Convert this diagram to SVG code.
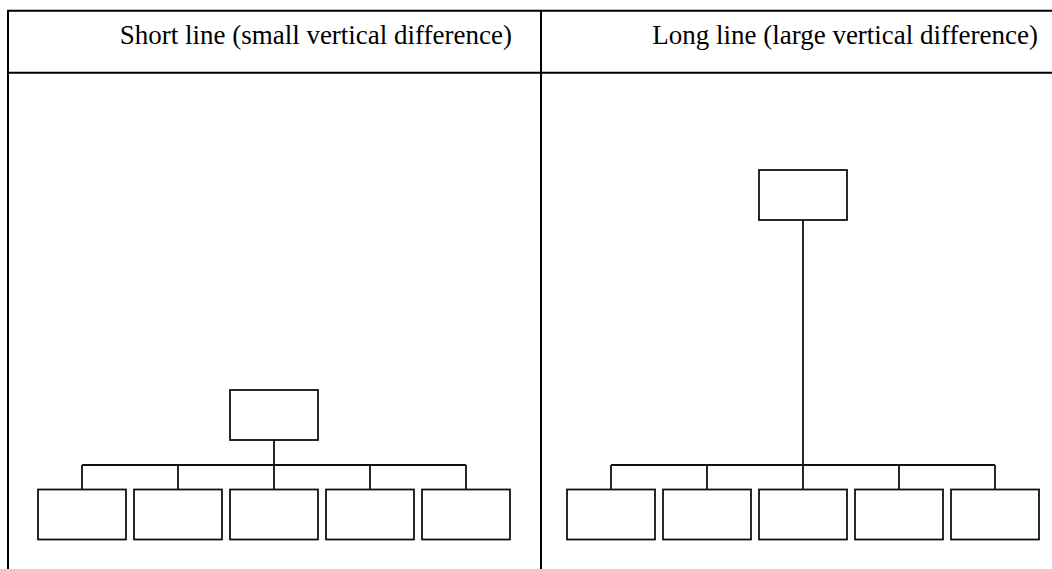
<svg xmlns="http://www.w3.org/2000/svg" width="1052" height="569" viewBox="0 0 1052 569">
  <style>
    .grid { stroke: #000; stroke-width: 2; fill: none; }
    .box { fill: #fff; stroke: #111; stroke-width: 1.8; }
    .wire { fill: none; stroke: #111; stroke-width: 1.8; }
    .title { font-family: "Liberation Serif", "Times New Roman", serif; font-size: 27px; fill: #000; text-anchor: end; }
  </style>
  <rect width="1052" height="569" fill="#fff"/>

  <!-- table frame -->
  <g id="table">
    <path class="grid" d="M8 569 V10.7 H1052 M8 72.7 H1052 M541 10.7 V569"/>
    <text class="title" x="512" y="44">Short line (small vertical difference)</text>
    <text class="title" x="1038" y="44">Long line (large vertical difference)</text>
  </g>

  <!-- connectors -->
  <g id="connectors">
    <path class="wire" d="M274 440 V465 M82 465 H466 M82 465 V489.5 M178 465 V489.5 M274 465 V489.5 M370 465 V489.5 M466 465 V489.5"/>
    <path class="wire" d="M803 220 V465 M611 465 H995 M611 465 V489.5 M707 465 V489.5 M803 465 V489.5 M899 465 V489.5 M995 465 V489.5"/>
  </g>

  <!-- left tree -->
  <g id="left-root"><rect class="box" x="230" y="390" width="88" height="50"/></g>
  <g id="left-child-1"><rect class="box" x="38" y="489.5" width="88" height="50"/></g>
  <g id="left-child-2"><rect class="box" x="134" y="489.5" width="88" height="50"/></g>
  <g id="left-child-3"><rect class="box" x="230" y="489.5" width="88" height="50"/></g>
  <g id="left-child-4"><rect class="box" x="326" y="489.5" width="88" height="50"/></g>
  <g id="left-child-5"><rect class="box" x="422" y="489.5" width="88" height="50"/></g>

  <!-- right tree -->
  <g id="right-root"><rect class="box" x="759" y="170" width="88" height="50"/></g>
  <g id="right-child-1"><rect class="box" x="567" y="489.5" width="88" height="50"/></g>
  <g id="right-child-2"><rect class="box" x="663" y="489.5" width="88" height="50"/></g>
  <g id="right-child-3"><rect class="box" x="759" y="489.5" width="88" height="50"/></g>
  <g id="right-child-4"><rect class="box" x="855" y="489.5" width="88" height="50"/></g>
  <g id="right-child-5"><rect class="box" x="951" y="489.5" width="88" height="50"/></g>
</svg>
